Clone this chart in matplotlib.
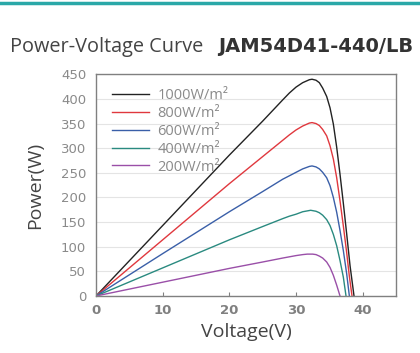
import matplotlib
matplotlib.use("Agg")
import matplotlib.pyplot as plt
from matplotlib.lines import Line2D

# Datos (Voltaje en V, Potencia en W)
v_1000 = [0, 10, 20, 25, 28, 29, 30, 31, 32, 32.4, 33, 33.5, 34, 34.6, 35.1, 35.6, 36.1, 36.6, 37.1, 37.6, 38.1, 38.7]
p_1000 = [0, 143, 286, 355, 398, 412, 424, 433, 439, 440, 438, 433, 422, 405, 382, 349, 302, 247, 188, 126, 62, 0]

v_800 = [0, 10, 20, 25, 28, 29, 30, 31, 32, 32.4, 33, 33.5, 34, 34.6, 35.1, 35.6, 36.1, 36.6, 37.1, 37.6, 38.0, 38.4]
p_800 = [0, 114, 228, 283, 316, 327, 337, 345, 351, 352, 350, 346, 338, 325, 305, 278, 240, 193, 142, 88, 40, 0]

v_600 = [0, 10, 20, 25, 28, 29, 30, 31, 32, 32.4, 33, 33.5, 34, 34.6, 35.1, 35.6, 36.1, 36.6, 37.1, 37.6, 38.0]
p_600 = [0, 86, 171, 212, 237, 244, 251, 258, 263, 264, 262, 258, 251, 240, 224, 200, 170, 133, 92, 45, 0]

v_400 = [0, 10, 20, 25, 28, 29, 30, 31, 32.2, 33, 33.5, 34, 34.6, 35.1, 35.6, 36.1, 36.6, 37.1, 37.5]
p_400 = [0, 57, 114, 141, 157, 162, 166, 171, 174, 172, 169, 164, 155, 143, 125, 102, 72, 38, 0]

v_200 = [0, 10, 20, 25, 28, 30, 31, 31.7, 32.5, 33, 33.5, 34, 34.6, 35.1, 35.6, 36.1, 36.6]
p_200 = [0, 28, 56, 69, 77, 82, 84, 85, 85, 84, 81, 77, 69, 58, 42, 22, 0]

series = [
    ("1000W/m²", v_1000, p_1000, "#222222"),
    ("800W/m²", v_800, p_800, "#e0383e"),
    ("600W/m²", v_600, p_600, "#3a5fa8"),
    ("400W/m²", v_400, p_400, "#2a8a80"),
    ("200W/m²", v_200, p_200, "#9a4fa8"),
]

x_ticks = [0, 10, 20, 30, 40]
y_ticks = [0, 50, 100, 150, 200, 250, 300, 350, 400, 450]

plt.rcParams['font.family'] = ['Open Sans', 'DejaVu Sans']

fig = plt.figure(figsize=(4.2, 3.53), dpi=100)
ax = fig.add_axes([0.2286, 0.1615, 0.7143, 0.628])

for nombre, v, p, color in series:
    ax.plot(v, p, color=color, linewidth=1.0, label=nombre)

ax.set_xlim(0, 45)
ax.set_ylim(0, 450)
ax.set_xticks(x_ticks)
ax.set_yticks(y_ticks)
ax.yaxis.grid(True, color="#e4e4e4", linewidth=0.8)
ax.set_axisbelow(True)
for s in ax.spines.values():
    s.set_color("#808080")
    s.set_linewidth(1.0)
ax.tick_params(axis="x", direction="in", length=3, color="#808080", labelcolor="#808080", pad=6)
ax.tick_params(axis="y", length=0, labelcolor="#8a8a8a", pad=7)
for lbl in ax.get_xticklabels() + ax.get_yticklabels():
    lbl.set_family(["DejaVu Sans"])
    lbl.set_fontsize(9.5)
for lbl in ax.get_xticklabels():
    lbl.set_fontweight("bold")

ax.set_xlabel("Voltage(V)", fontsize=14, color="#444444", labelpad=4)
ax.set_ylabel("Power(W)", fontsize=14, color="#444444", labelpad=12)

leg = ax.legend(loc="upper left", frameon=False, fontsize=10.5, handlelength=2.5,
                handletextpad=0.6, labelspacing=0.2, borderaxespad=0,
                bbox_to_anchor=(0.035, 0.965))
for t in leg.get_texts():
    t.set_color("#8a8a8a")

# Titulo en dos partes
fig.text(0.024, 0.867, "Power-Voltage Curve", fontsize=14.3, color="#444444", va="center", ha="left")
fig.text(0.519, 0.867, "JAM54D41-440/LB", fontsize=14, fontweight="bold", color="#333333",
         va="center", ha="left", family=["DejaVu Sans"])

# Linea superior
fig.add_artist(Line2D([0, 1], [0.992, 0.992], color="#2aa8a8", linewidth=2.5, transform=fig.transFigure))

fig.savefig("out.png", dpi=100)
